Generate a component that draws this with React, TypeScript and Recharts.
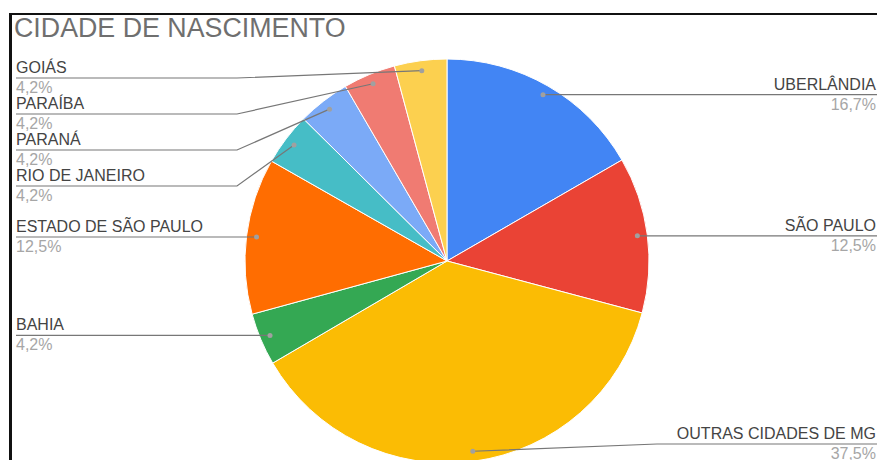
import { PieChart, Pie, Cell } from 'recharts';

const cities = [
    'UBERLÂNDIA',
    'SÃO PAULO',
    'OUTRAS CIDADES DE MG',
    'BAHIA',
    'ESTADO DE SÃO PAULO',
    'RIO DE JANEIRO',
    'PARANÁ',
    'PARAÍBA',
    'GOIÁS',
];
const shares = [16.7, 12.5, 37.5, 4.2, 12.5, 4.2, 4.2, 4.2, 4.2];
const colors = ['#4285f4', '#ea4335', '#fbbc04', '#34a853', '#ff6d01', '#46bdc6', '#7baaf7', '#f07b72', '#fcd04f'];

const W = 877;
const H = 460;
const CX = 447;
const CY = 261;
const R = 202;
const RAD = Math.PI / 180;
const DOT_IN = 10;
const GAP = 36;
const TOP = 78;
const BOTTOM = 444;
const FONT = '"Liberation Sans", Arial, sans-serif';

const data = cities.map((name, i) => ({ name, value: shares[i] }));

// stack the label rows on each side so they don't collide
function layoutLabels(): number[] {
    const total = shares.reduce((a, b) => a + b, 0);
    let cum = 0;
    const items = shares.map((v, i) => {
        const mid = 90 - (360 * (cum + v / 2)) / total;
        cum += v;
        const x = CX + (R - DOT_IN) * Math.cos(mid * RAD);
        const y = CY - (R - DOT_IN) * Math.sin(mid * RAD);
        return { i, y, right: x >= CX };
    });
    const ys: number[] = new Array(shares.length).fill(0);
    [true, false].forEach((side) => {
        const group = items.filter((d) => d.right === side).sort((a, b) => a.y - b.y);
        let prev = -Infinity;
        group.forEach((d) => {
            ys[d.i] = Math.max(d.y, TOP, prev + GAP);
            prev = ys[d.i];
        });
        let next = Infinity;
        for (let k = group.length - 1; k >= 0; k--) {
            const d = group[k];
            ys[d.i] = Math.min(ys[d.i], BOTTOM, next - GAP);
            next = ys[d.i];
        }
    });
    return ys;
}

const labelYs = layoutLabels();

function renderLabel(p: any) {
    const { cx, cy, midAngle, outerRadius, index } = p;
    const r = outerRadius - DOT_IN;
    const x = cx + r * Math.cos(-midAngle * RAD);
    const y = cy + r * Math.sin(-midAngle * RAD);
    const ly = labelYs[index];
    const right = x >= cx;
    const elbowX = right ? cx + outerRadius + 8 : cx - outerRadius - 8;
    const endX = right ? W : 16;
    const textX = right ? W - 1 : 16;
    const anchor = right ? 'end' : 'start';
    const pts =
        Math.abs(ly - y) < 0.5
            ? `${x},${y} ${endX},${ly}`
            : `${x},${y} ${elbowX},${ly} ${endX},${ly}`;
    return (
        <g key={`lbl-${index}`}>
            <polyline points={pts} fill="none" stroke="#777" strokeWidth={1.2} />
            <circle cx={x} cy={y} r={2.5} fill="#a0a0a0" />
            <text x={textX} y={ly - 5} textAnchor={anchor} fontSize={16} fill="#444" fontFamily={FONT}>
                {cities[index]}
            </text>
            <text x={textX} y={ly + 15} textAnchor={anchor} fontSize={16} fill="#a6a6a6" fontFamily={FONT}>
                {shares[index].toFixed(1).replace('.', ',')}%
            </text>
        </g>
    );
}

export default function App() {
    return (
        <div style={{ position: 'absolute', left: 0, top: 0, width: W, height: H, background: '#fff', overflow: 'hidden' }}>
            <PieChart width={W} height={H} margin={{ top: 0, right: 0, bottom: 0, left: 0 }}>
                <Pie
                    data={data}
                    dataKey="value"
                    nameKey="name"
                    cx={CX}
                    cy={CY}
                    outerRadius={R}
                    startAngle={90}
                    endAngle={-270}
                    stroke="#fff"
                    strokeWidth={1}
                    label={renderLabel}
                    labelLine={false}
                    isAnimationActive={false}
                >
                    {data.map((d, i) => (
                        <Cell key={d.name} fill={colors[i]} />
                    ))}
                </Pie>
            </PieChart>
            <svg width={W} height={H} style={{ position: 'absolute', left: 0, top: 0, pointerEvents: 'none' }}>
                <line x1={9} y1={14} x2={W} y2={14} stroke="#111" strokeWidth={2} />
                <line x1={10.5} y1={13} x2={10.5} y2={H} stroke="#111" strokeWidth={3} />
                <text x={14} y={37} fontSize={26.8} fill="#6f6f6f" fontFamily={FONT}>
                    CIDADE DE NASCIMENTO
                </text>
            </svg>
        </div>
    );
}
